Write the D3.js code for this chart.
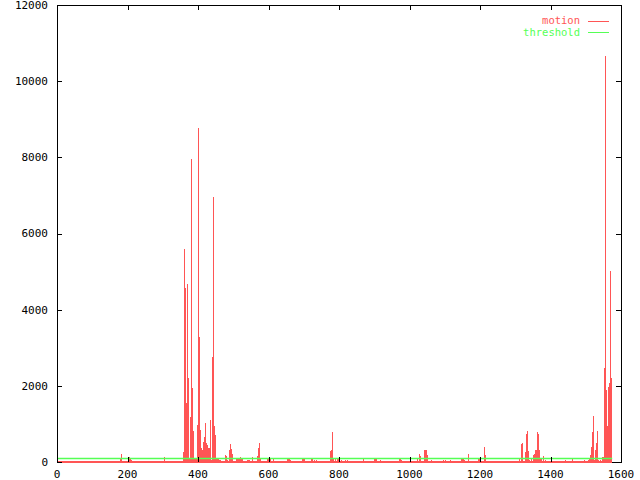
<!DOCTYPE html>
<html lang="en">
<head>
<meta charset="utf-8">
<title>motion</title>
<script src="https://cdnjs.cloudflare.com/ajax/libs/d3/7.8.5/d3.min.js"></script>
<style>
	body { margin: 0; background: #fff; }
	svg text { font-family: "DejaVu Sans Mono", monospace; font-size: 11px; }
	svg text.legend { font-size: 10.5px; }
</style>
</head>
<body>
<div id="chart"></div>
<script>
// tick labels
var xTicks = [0, 200, 400, 600, 800, 1000, 1200, 1400, 1600];
var yTicks = [0, 2000, 4000, 6000, 8000, 10000, 12000];

// frames covered by the motion series, and its noise floor
var lastFrame = 1575;
var motionFloor = 35;

// motion impulses [frame, value]
var motion = [
	[3,30],[9,35],[14,30],[26,35],[31,30],
	[179,97],[182,210],[204,122],[207,100],[210,60],[240,30],[270,30],[304,140],
	[357,270],[360,5590],[363,4560],[366,1560],[369,4680],[372,2200],[374,100],[377,1190],
	[380,7960],[383,1950],[386,810],[389,100],[392,90],[394,110],[397,970],[400,8780],
	[403,3290],[406,840],[409,360],[411,315],[414,530],[417,650],[420,1030],[423,510],
	[426,450],[428,380],[431,380],[434,1100],[437,50],[440,2770],[443,6970],[445,950],
	[448,710],[451,90],[454,87],[457,87],[460,60],[462,52],
	[477,192],[479,150],[483,60],[488,315],[491,480],[494,340],[496,210],[499,30],[502,30],
	[508,79],[511,79],[514,79],[517,79],[519,131],[522,79],[525,79],
	[539,52],[542,52],[546,52],[553,122],[567,158],[570,360],[573,500],[576,79],
	[596,105],[599,105],[602,105],[605,79],[613,70],
	[635,35],[640,35],[652,79],[655,79],[658,79],[661,52],
	[675,30],[690,30],[695,79],[698,79],[701,79],[721,79],[724,79],[730,40],[735,40],
	[748,30],[755,30],
	[774,290],[777,315],[780,790],[783,79],[790,79],[794,79],[797,79],[805,52],[817,52],
	[822,40],[835,30],[850,30],[868,79],
	[885,30],[899,79],[902,79],[905,79],[915,40],[930,30],[945,30],[960,30],[970,79],
	[973,79],[976,52],
	[990,30],[1000,30],[1015,30],[1022,79],[1027,210],[1030,158],
	[1041,315],[1044,315],[1047,315],[1050,184],[1060,40],[1070,30],
	[1087,30],[1095,40],[1100,40],[1115,40],[1120,30],[1135,30],[1146,79],[1149,79],
	[1152,79],[1155,52],[1160,30],[1166,210],[1175,30],[1185,30],[1194,79],[1197,79],
	[1200,79],[1211,394],[1214,184],
	[1240,30],[1250,30],[1260,30],[1275,30],[1290,30],[1300,30],[1310,79],[1316,473],
	[1319,499],[1322,30],[1328,263],[1330,735],[1333,814],[1336,289],[1340,40],[1345,79],
	[1350,184],[1353,210],[1356,315],[1359,315],[1362,788],[1364,735],[1367,315],[1370,79],
	[1373,79],[1379,158],[1385,40],[1395,30],
	[1420,30],[1440,40],[1461,79],[1470,30],[1480,30],[1495,40],[1505,40],[1510,79],
	[1512,184],[1515,403],[1518,797],[1521,1208],[1524,50],[1526,315],[1529,490],
	[1532,823],[1535,40],[1540,40],[1546,131],[1549,140],[1552,2460],[1555,10660],
	[1557,1890],[1560,945],[1563,1978],[1566,2066],[1569,5024],[1572,2197]
];

// threshold series
var threshold = [[0, 100], [1575, 100]];

(function() {
	var red = "#ff5555";
	var green = "#55ff55";

	var width = 640;
	var height = 480;
	var mLeft = 57, mRight = 621, mTop = 5, mBottom = 462;

	var svg = d3.select("#chart")
		.append("svg")
		.attr("width", width)
		.attr("height", height);

	var x = d3.scaleLinear().domain([0, 1600]).range([mLeft, mRight]);
	var y = d3.scaleLinear().domain([0, 12000]).range([mBottom, mTop]);

	// border
	svg.append("rect")
		.attr("x", mLeft + 0.5)
		.attr("y", mTop + 0.5)
		.attr("width", mRight - mLeft)
		.attr("height", mBottom - mTop)
		.attr("fill", "none")
		.attr("stroke", "black")
		.attr("shape-rendering", "crispEdges");

	// noise floor under the impulses
	svg.append("rect")
		.attr("x", x(0))
		.attr("y", Math.round(y(motionFloor)))
		.attr("width", x(lastFrame) - x(0))
		.attr("height", mBottom + 1 - Math.round(y(motionFloor)))
		.attr("fill", red)
		.attr("shape-rendering", "crispEdges");

	// impulses
	svg.append("g")
		.selectAll("rect")
		.data(motion)
		.enter().append("rect")
		.attr("x", function(d) { return Math.round(x(d[0])); })
		.attr("y", function(d) { return Math.round(y(d[1])); })
		.attr("width", 1)
		.attr("height", function(d) { return mBottom + 1 - Math.round(y(d[1])); })
		.attr("fill", red)
		.attr("shape-rendering", "crispEdges");

	// threshold line
	svg.append("path")
		.datum(threshold)
		.attr("d", d3.line()
			.x(function(d) { return x(d[0]); })
			.y(function(d) { return Math.round(y(d[1])) + 0.5; }))
		.attr("fill", "none")
		.attr("stroke", green)
		.attr("stroke-width", 1.5);

	// ticks, drawn inward on all four sides
	var tickLen = 5;
	var ticks = svg.append("g").attr("stroke", "black").attr("shape-rendering", "crispEdges");
	xTicks.forEach(function(t) {
		var px = Math.round(x(t)) + 0.5;
		ticks.append("line").attr("x1", px).attr("x2", px).attr("y1", mBottom).attr("y2", mBottom - tickLen);
		ticks.append("line").attr("x1", px).attr("x2", px).attr("y1", mTop).attr("y2", mTop + tickLen);
	});
	yTicks.forEach(function(t) {
		var py = Math.round(y(t)) + 0.5;
		ticks.append("line").attr("x1", mLeft).attr("x2", mLeft + tickLen).attr("y1", py).attr("y2", py);
		ticks.append("line").attr("x1", mRight).attr("x2", mRight - tickLen).attr("y1", py).attr("y2", py);
	});

	// tick labels
	svg.selectAll(".xlab")
		.data(xTicks)
		.enter().append("text")
		.attr("x", function(d) { return x(d); })
		.attr("y", 474)
		.attr("dy", "0.35em")
		.attr("text-anchor", "middle")
		.text(function(d) { return d; });

	svg.selectAll(".ylab")
		.data(yTicks)
		.enter().append("text")
		.attr("x", 48)
		.attr("y", function(d) { return y(d); })
		.attr("dy", "0.35em")
		.attr("text-anchor", "end")
		.text(function(d) { return d; });

	// legend
	var legend = [["motion", red], ["threshold", green]];
	legend.forEach(function(l, i) {
		var ly = 20.5 + i * 11.5;
		svg.append("text")
			.attr("class", "legend")
			.attr("x", 580)
			.attr("y", ly)
			.attr("dy", "0.35em")
			.attr("text-anchor", "end")
			.attr("fill", l[1])
			.text(l[0]);
		svg.append("line")
			.attr("x1", 588).attr("x2", 609)
			.attr("y1", Math.round(ly) + 0.5).attr("y2", Math.round(ly) + 0.5)
			.attr("stroke", l[1]);
	});
})();
</script>
</body>
</html>
